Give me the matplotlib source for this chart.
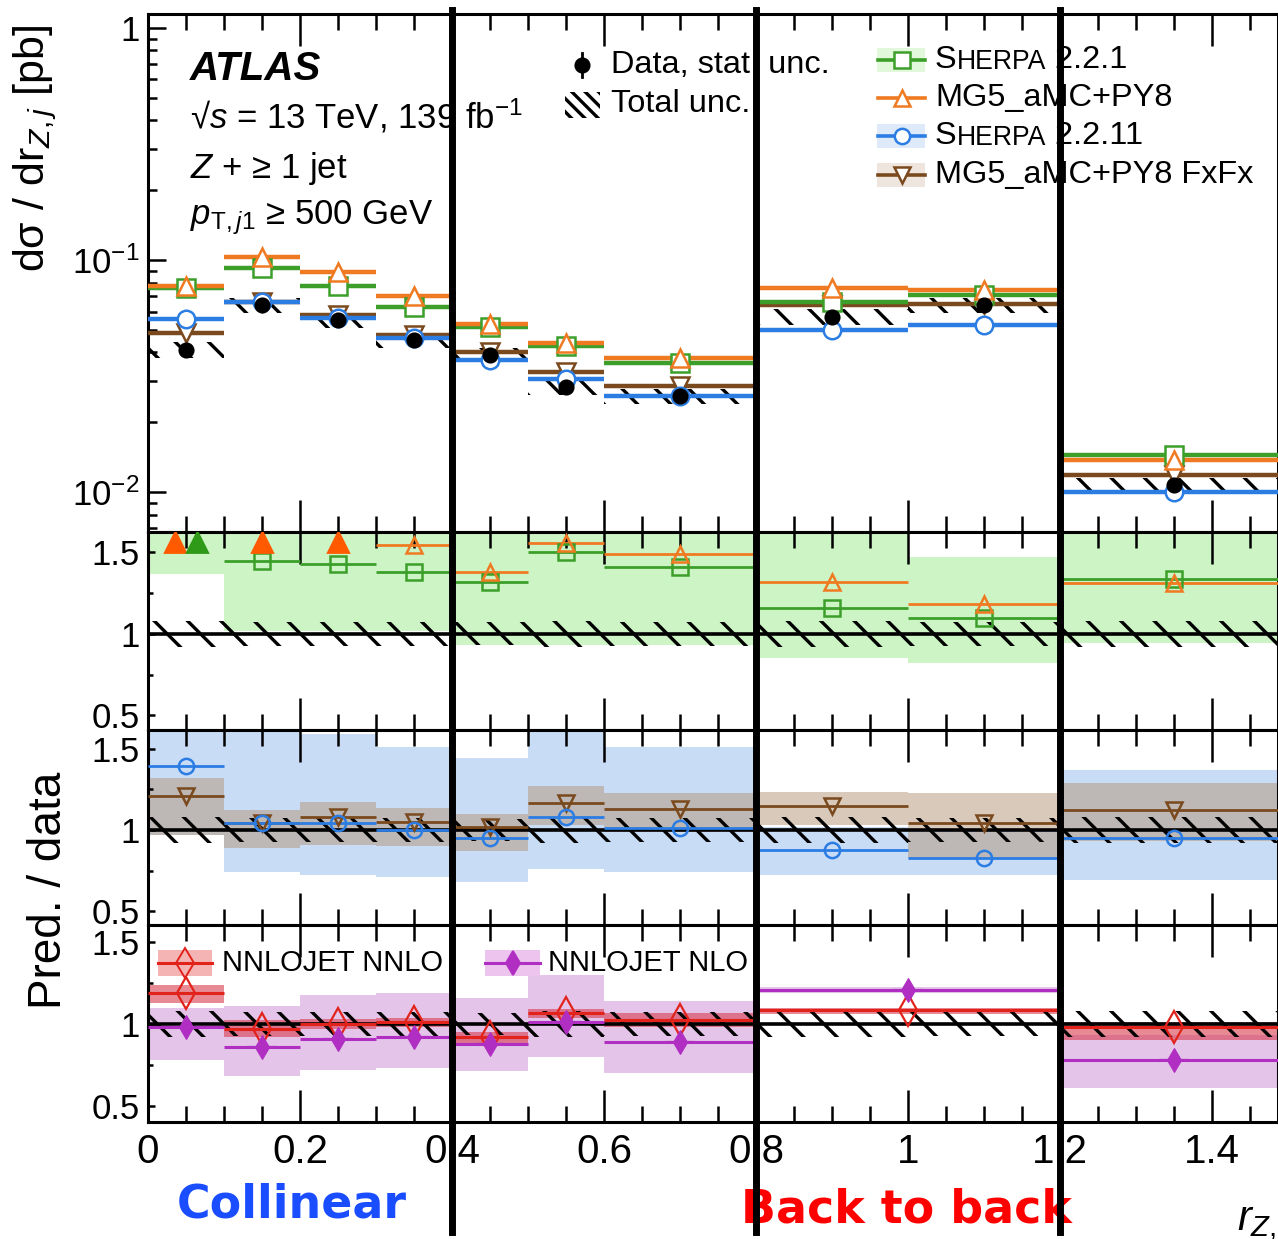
import matplotlib
matplotlib.use("Agg")
import matplotlib.pyplot as plt
import matplotlib.transforms as mtransforms
import numpy as np
from matplotlib.lines import Line2D
from matplotlib.patches import Rectangle
from matplotlib.ticker import FixedLocator, FuncFormatter, MultipleLocator, LogLocator, NullFormatter

plt.rcParams['font.family'] = ['Liberation Sans', 'DejaVu Sans']
plt.rcParams['mathtext.fontset'] = 'custom'
plt.rcParams['mathtext.rm'] = 'Liberation Sans'
plt.rcParams['mathtext.it'] = 'Liberation Sans:italic'
plt.rcParams['mathtext.bf'] = 'Liberation Sans:bold'
plt.rcParams['hatch.linewidth'] = 1.2
plt.rcParams['hatch.color'] = 'black'

# ---- binning (r_Zj) ----
bin_edges = [0.0, 0.1, 0.2, 0.3, 0.4, 0.5, 0.6, 0.8, 1.0, 1.2, 1.5]
nnlojet_edges = [0.0, 0.1, 0.2, 0.3, 0.4, 0.5, 0.6, 0.8, 1.2, 1.5]
region_edges = [0.4, 0.8, 1.2]

# ---- cross sections [pb] ----
data_xsec = [0.041, 0.064, 0.055, 0.0452, 0.039, 0.0285, 0.026, 0.057, 0.064, 0.0107]
data_stat = [0.03, 0.02, 0.02, 0.02, 0.02, 0.025, 0.02, 0.02, 0.02, 0.03]   # relative
data_total = [0.08, 0.075, 0.075, 0.075, 0.07, 0.08, 0.075, 0.08, 0.075, 0.08]  # relative
sherpa221_xsec = [0.076, 0.0923, 0.0775, 0.0625, 0.0513, 0.0426, 0.0361, 0.066, 0.0706, 0.01444]
mg5_xsec = [0.077, 0.1033, 0.089, 0.0702, 0.053, 0.044, 0.0377, 0.0754, 0.074, 0.0138]
sherpa2211_xsec = [0.0557, 0.066, 0.056, 0.046, 0.0371, 0.0306, 0.0259, 0.0499, 0.0526, 0.0100]
fxfx_xsec = [0.0485, 0.066, 0.058, 0.0475, 0.0403, 0.033, 0.0286, 0.0643, 0.0649, 0.0118]

# ---- ratios to data ----
sherpa221_ratio = [1.86, 1.444, 1.43, 1.378, 1.32, 1.50, 1.41, 1.158, 1.10, 1.335]
sherpa221_lo = [1.37, 1.02, 1.02, 1.02, 0.93, 0.93, 0.93, 0.85, 0.82, 0.945]
sherpa221_hi = [2.3, 1.9, 1.9, 1.9, 1.9, 1.9, 1.9, 1.9, 1.47, 1.9]
mg5_ratio = [1.88, 1.66, 1.64, 1.546, 1.378, 1.556, 1.49, 1.32, 1.184, 1.31]

sherpa2211_ratio = [1.395, 1.04, 1.04, 1.0, 0.95, 1.08, 1.01, 0.876, 0.825, 0.95]
sherpa2211_lo = [0.97, 0.74, 0.72, 0.71, 0.68, 0.76, 0.74, 0.72, 0.72, 0.69]
sherpa2211_hi = [1.8, 1.7, 1.59, 1.51, 1.44, 1.7, 1.51, 1.02, 1.0, 1.37]
fxfx_ratio = [1.21, 1.04, 1.08, 1.05, 1.02, 1.165, 1.13, 1.145, 1.04, 1.12]
fxfx_lo = [0.97, 0.89, 0.91, 0.90, 0.87, 1.03, 0.99, 1.03, 0.83, 0.93]
fxfx_hi = [1.32, 1.12, 1.17, 1.135, 1.10, 1.27, 1.23, 1.235, 1.226, 1.29]

nnlo_ratio = [1.19, 0.97, 1.0, 1.01, 0.92, 1.066, 1.025, 1.086, 0.98]
nnlo_lo = [1.13, 0.92, 0.97, 0.98, 0.88, 1.04, 0.985, 1.06, 0.90]
nnlo_hi = [1.24, 1.025, 1.03, 1.04, 0.95, 1.09, 1.065, 1.10, 1.015]
nlo_ratio = [0.98, 0.86, 0.91, 0.92, 0.88, 1.01, 0.89, 1.21, 0.78]
nlo_lo = [0.78, 0.68, 0.72, 0.73, 0.71, 0.80, 0.70, 1.19, 0.61]
nlo_hi = [1.10, 1.11, 1.18, 1.19, 1.16, 1.30, 1.14, 1.23, 0.93]

# ---- styles ----
c_green = '#3c9f2a'
c_orange = '#f07a22'
c_blue = '#2b7de3'
c_brown = '#7a4a1e'
c_red = '#e2231c'
c_magenta = '#b02fc2'
band_green = '#cdf4c4'
band_blue = '#c8dcf6'
band_brown = '#b39576'
band_red = '#d83c4c'
band_pink = '#dcb0e2'

W, H = 1278, 1239
fig = plt.figure(figsize=(W / 200, H / 200), dpi=200)

left = 148 / W
width = 1 - left


def panel(top_px, bot_px):
    return fig.add_axes([left, 1 - bot_px / H, width, (bot_px - top_px) / H])


ax_main = panel(14, 532)
ax_r1 = panel(532, 730)
ax_r2 = panel(730, 925)
ax_r3 = panel(925, 1122)
axes = [ax_main, ax_r1, ax_r2, ax_r3]

edges = np.array(bin_edges)
lo_e, hi_e = edges[:-1], edges[1:]
centers = 0.5 * (lo_e + hi_e)
widths = hi_e - lo_e
data = np.array(data_xsec)

for ax in axes:
    ax.set_xlim(0, (W - 148) / 760)
    for s in ax.spines.values():
        s.set_linewidth(1.1)
    ax.xaxis.set_major_locator(MultipleLocator(0.2))
    ax.xaxis.set_minor_locator(MultipleLocator(0.05))
    ax.tick_params(axis='x', which='major', direction='in', top=True, bottom=True,
                   length=11.5, width=0.9, labelbottom=False)
    ax.tick_params(axis='x', which='minor', direction='in', top=True, bottom=True,
                   length=5.8, width=0.9)

# ---- main panel ----
ax_main.set_yscale('log')
ax_main.set_ylim(0.00673, 1.149)
ax_main.yaxis.set_major_locator(FixedLocator([0.01, 0.1, 1]))
ax_main.yaxis.set_major_formatter(FuncFormatter(
    lambda v, p: '1' if v == 1 else r'$10^{%d}$' % round(np.log10(v))))
ax_main.yaxis.set_minor_locator(LogLocator(base=10, subs=np.arange(2, 10)))
ax_main.yaxis.set_minor_formatter(NullFormatter())
ax_main.tick_params(axis='y', which='major', direction='in', length=6.3, width=0.9,
                    labelsize=12.5, pad=3)
ax_main.tick_params(axis='y', which='minor', direction='in', length=3.3, width=0.9)

ax_main.bar(lo_e, data * 2 * np.array(data_total), bottom=data * (1 - np.array(data_total)),
            width=widths, align='edge', facecolor='none', edgecolor='black',
            linewidth=0, hatch='\\\\', zorder=2)

main_series = [
    (fxfx_xsec, c_brown, 'v'),
    (sherpa2211_xsec, c_blue, 'o'),
    (sherpa221_xsec, c_green, 's'),
    (mg5_xsec, c_orange, '^'),
]
for vals, col, mk in main_series:
    ax_main.hlines(vals, lo_e, hi_e, colors=col, lw=1.6, zorder=4)
for vals, col, mk in main_series:
    ax_main.plot(centers, vals, ls='none', marker=mk, ms=6.3, mfc='white', mec=col,
                 mew=0.9, zorder=5)
ax_main.errorbar(centers, data, yerr=data * np.array(data_stat), fmt='o', color='black',
                 ms=4.8, elinewidth=1.0, capsize=0, zorder=6)

ax_main.set_ylabel('dσ / dr$_{Z,j}$ [pb]', fontsize=15.5, labelpad=2)
ax_main.yaxis.set_label_coords(-0.079, 0.74)

T = ax_main.transAxes


def fx(px):
    return (px - 148) / (W - 148)


def fy(py):
    return (532 - py) / (532 - 14)


ax_main.text(fx(190), fy(80), 'ATLAS', transform=T, fontsize=14.5, fontweight='bold',
             fontstyle='italic', va='baseline')
ax_main.text(fx(190), fy(128), '√$s$ = 13 TeV, 139 fb$^{-1}$', transform=T,
             fontsize=12.5, va='baseline')
ax_main.text(fx(190), fy(178), '$Z$ + ≥ 1 jet', transform=T, fontsize=12.5, va='baseline')
ax_main.text(fx(190), fy(224), '$p_{\\mathrm{T},j1}$ ≥ 500 GeV', transform=T,
             fontsize=12.5, va='baseline')

# legend: data
leg_fs = 11.7
ax_main.add_line(Line2D([fx(582), fx(582)], [fy(53), fy(77)], transform=T, color='black',
                        lw=1.0))
ax_main.add_line(Line2D([fx(582)], [fy(65)], transform=T, marker='o', ms=4.8,
                        color='black', ls='none'))
ax_main.text(fx(611), fy(65), 'Data, stat. unc.', transform=T, fontsize=leg_fs, va='center')
ax_main.add_patch(Rectangle((fx(565), fy(118)), fx(600) - fx(565), fy(92) - fy(118),
                            transform=T, facecolor='none', edgecolor='black', lw=0,
                            hatch='\\\\\\\\\\'))
ax_main.text(fx(611), fy(104), 'Total unc.', transform=T, fontsize=leg_fs, va='center')


def smallcaps(ax, x, y, first, caps, tail, size, transform):
    t = ax.text(x, y, first, transform=transform, fontsize=size, va='center')
    t2 = ax.annotate(caps, xy=(1, 0), xycoords=t, fontsize=size * 0.82, va='bottom')
    ax.annotate(tail, xy=(1, 0), xycoords=t2, fontsize=size, va='bottom')


legend_rows = [
    ('SHERPA 2.2.1', c_green, 's', band_green, 60),
    ('MG5_aMC+PY8', c_orange, '^', None, 98),
    ('SHERPA 2.2.11', c_blue, 'o', band_blue, 136),
    ('MG5_aMC+PY8 FxFx', c_brown, 'v', '#e2d5c8', 175),
]
for label, col, mk, bcol, py in legend_rows:
    if bcol is not None:
        ax_main.add_patch(Rectangle((fx(877), fy(py + 12)), fx(925) - fx(877),
                                    fy(py - 12) - fy(py + 12), transform=T,
                                    facecolor=bcol, edgecolor='none', alpha=0.6))
    ax_main.add_line(Line2D([fx(878), fx(925)], [fy(py), fy(py)], transform=T, color=col,
                            lw=1.3))
    ax_main.add_line(Line2D([fx(902)], [fy(py)], transform=T, marker=mk, ms=5.5,
                            mfc='white', mec=col, mew=0.9, ls='none'))
    if label.startswith('SHERPA'):
        smallcaps(ax_main, fx(935), fy(py), 'S', 'HERPA', label[6:], leg_fs, T)
    else:
        ax_main.text(fx(935), fy(py), label, transform=T, fontsize=leg_fs, va='center')

# ---- ratio panels common ----
ratio_lims = [(0.41, 1.625), (0.415, 1.615), (0.40, 1.607)]
for ax, lims in zip([ax_r1, ax_r2, ax_r3], ratio_lims):
    ax.set_ylim(*lims)
    ax.yaxis.set_major_locator(FixedLocator([0.5, 1.0, 1.5]))
    ax.yaxis.set_major_formatter(FuncFormatter(lambda v, p: '%g' % v))
    ax.yaxis.set_minor_locator(FixedLocator([0.75, 1.25]))
    ax.tick_params(axis='y', which='major', direction='in', length=2.6, width=0.9,
                   labelsize=12.5, pad=3)
    ax.tick_params(axis='y', which='minor', direction='in', length=1.8, width=0.9)
    ax.axhline(1.0, color='black', lw=1.3, zorder=3)
    tot = np.array(data_total)
    ax.bar(lo_e, 2 * tot, bottom=1 - tot, width=widths, align='edge', facecolor='none',
           edgecolor='black', linewidth=0, hatch='\\\\', zorder=3)


def ratio_steps(ax, vals, col, mk, top, lw=1.0, ms=5.5, mfc='none'):
    vals = np.array(vals)
    ok = vals < top
    ax.hlines(vals[ok], lo_e[ok], hi_e[ok], colors=col, lw=lw, zorder=4)
    ax.plot(centers[ok], vals[ok], ls='none', marker=mk, ms=ms, mfc=mfc, mec=col,
            mew=0.9, zorder=5)


# ratio 1: SHERPA 2.2.1 & MG5
top1 = ratio_lims[0][1]
ax_r1.bar(lo_e, np.array(sherpa221_hi) - np.array(sherpa221_lo), bottom=sherpa221_lo,
          width=widths, align='edge', color=band_green, linewidth=0, zorder=1)
ratio_steps(ax_r1, sherpa221_ratio, c_green, 's', top1)
ratio_steps(ax_r1, mg5_ratio, c_orange, '^', top1)
out_mg = np.array(mg5_ratio) > top1
out_sh = np.array(sherpa221_ratio) > top1
both = out_mg & out_sh
ax_r1.plot(centers[out_mg] - 0.015 * both[out_mg], np.full(out_mg.sum(), 1.565),
           ls='none', marker='^', ms=7, color='#ff5a00', zorder=6)
ax_r1.plot(centers[out_sh] + 0.015 * both[out_sh], np.full(out_sh.sum(), 1.565),
           ls='none', marker='^', ms=7, color='#2f9a17', zorder=6)

# ratio 2: SHERPA 2.2.11 & FxFx
top2 = ratio_lims[1][1]
ax_r2.bar(lo_e, np.array(sherpa2211_hi) - np.array(sherpa2211_lo), bottom=sherpa2211_lo,
          width=widths, align='edge', color=band_blue, linewidth=0, zorder=1)
ax_r2.bar(lo_e, np.array(fxfx_hi) - np.array(fxfx_lo), bottom=fxfx_lo, width=widths,
          align='edge', color=band_brown, alpha=0.5, linewidth=0, zorder=1.5)
ratio_steps(ax_r2, fxfx_ratio, c_brown, 'v', top2)
ratio_steps(ax_r2, sherpa2211_ratio, c_blue, 'o', top2)
ax_r2.set_ylabel('Pred. / data', fontsize=16.5)
ax_r2.yaxis.set_label_coords(-0.068, 0.18)

# ratio 3: NNLOJET
ne = np.array(nnlojet_edges)
n_lo, n_hi = ne[:-1], ne[1:]
n_c = 0.5 * (n_lo + n_hi)
ax_r3.bar(n_lo, np.array(nlo_hi) - np.array(nlo_lo), bottom=nlo_lo, width=n_hi - n_lo,
          align='edge', color=band_pink, alpha=0.75, linewidth=0, zorder=1)
ax_r3.bar(n_lo, np.array(nnlo_hi) - np.array(nnlo_lo), bottom=nnlo_lo, width=n_hi - n_lo,
          align='edge', color=band_red, alpha=0.6, linewidth=0, zorder=1.5)
ax_r3.hlines(nnlo_ratio, n_lo, n_hi, colors=c_red, lw=1.1, zorder=4)
ax_r3.plot(n_c, nnlo_ratio, ls='none', marker='d', ms=8, mfc='none', mec=c_red, mew=0.8,
           zorder=5)
ax_r3.hlines(nlo_ratio, n_lo, n_hi, colors=c_magenta, lw=1.1, zorder=4)
ax_r3.plot(n_c, nlo_ratio, ls='none', marker='d', ms=6, mfc=c_magenta, mec=c_magenta,
           mew=0.4, zorder=5)
ax_r3.errorbar(n_c, nlo_ratio, xerr=0.02, fmt='none', ecolor=c_magenta, elinewidth=0.8,
               capsize=0, zorder=5)

T3 = ax_r3.transAxes


def fy3(py):
    return (1122 - py) / (1122 - 925)


for x0, x1, col, bcol, mfc, ms, label, tx in [
        (158, 212, c_red, '#f4b4b4', 'none', 7.5, 'NNLOJET NNLO', 222),
        (485, 540, c_magenta, '#ecc4ee', c_magenta, 6, 'NNLOJET NLO', 548)]:
    ax_r3.add_patch(Rectangle((fx(x0), fy3(976)), fx(x1) - fx(x0), fy3(950) - fy3(976),
                              transform=T3, facecolor=bcol, edgecolor='none', zorder=6))
    ax_r3.add_line(Line2D([fx(x0), fx(x1)], [fy3(963), fy3(963)], transform=T3, color=col,
                          lw=1.1, zorder=7))
    ax_r3.add_line(Line2D([0.5 * (fx(x0) + fx(x1))], [fy3(963)], transform=T3, marker='d',
                          ms=ms, mfc=mfc, mec=col, mew=0.7, ls='none', zorder=7))
    ax_r3.text(fx(tx), fy3(963), label, transform=T3, fontsize=10.5, va='center', zorder=7)

ax_r3.xaxis.set_major_formatter(FuncFormatter(lambda v, p: '%g' % round(v, 2)))
ax_r3.tick_params(axis='x', which='major', labelbottom=True, labelsize=14.5, pad=4)

# region separators
bt = mtransforms.blended_transform_factory(ax_main.transData, fig.transFigure)
for xe in region_edges:
    fig.add_artist(Line2D([xe, xe], [1 - 10 / H, 1 - 1232 / H], transform=bt,
                          color='black', lw=2.5, zorder=20))

fig.text(292 / W, 1 - 1205 / H, 'Collinear', color='#1a4dff', fontsize=16.5,
         fontweight='bold', family='DejaVu Sans', ha='center', va='center')
fig.text(906 / W, 1 - 1210 / H, 'Back to back', color='#ff0000', fontsize=16.5,
         fontweight='bold', family='DejaVu Sans', ha='center', va='center')
fig.text(1237 / W, 1 - 1230 / H, '$r_{Z,j}$', fontsize=15, ha='left', va='baseline')

fig.savefig('out.png', dpi=200)
